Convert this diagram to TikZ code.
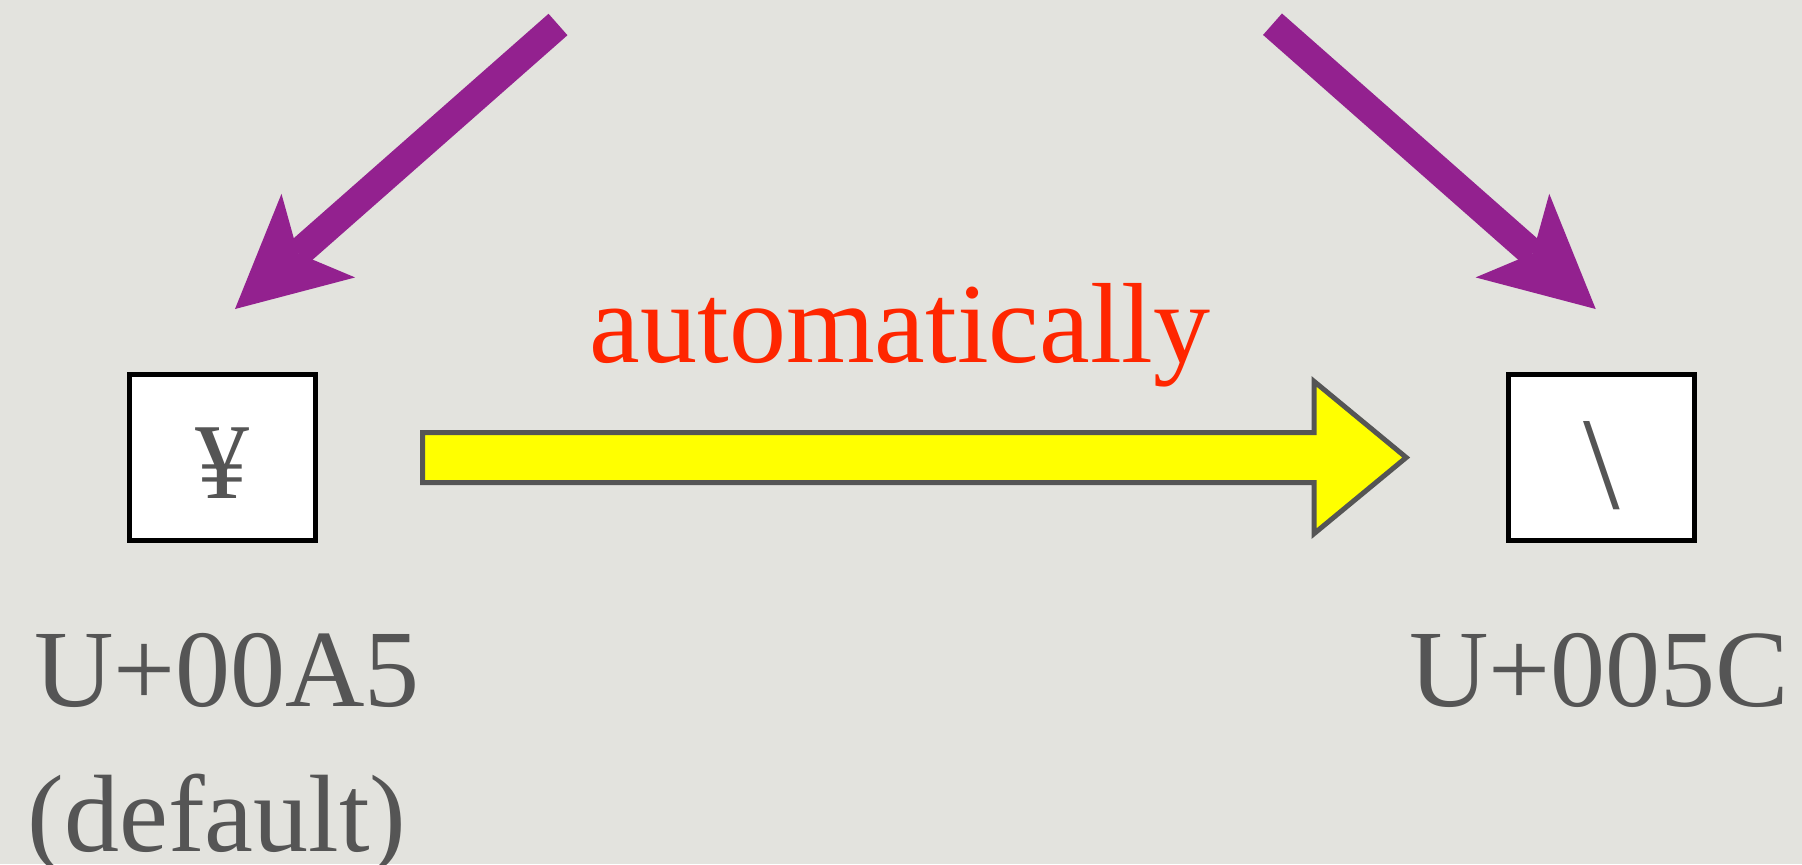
\documentclass[tikz,border=0pt]{standalone}
\usepackage{fontspec}
\setmainfont{Liberation Serif}
\usetikzlibrary{arrows.meta,calc}
\definecolor{paper}{RGB}{227,227,222}
\definecolor{ink}{RGB}{85,85,85}
\definecolor{plum}{RGB}{147,33,143}
\definecolor{alert}{RGB}{255,38,0}
\definecolor{lemon}{RGB}{255,255,0}
\begin{document}
\begin{tikzpicture}[x=0.5pt,y=-0.5pt,
  glyphbox/.style={draw=black, line width=2.5pt, fill=white,
    minimum width=93.3pt, minimum height=83.3pt, inner sep=0pt, outer sep=0pt,
    text=ink, font=\fontsize{54}{60}\selectfont, text height=45pt, text depth=4.5pt},
  codetext/.style={text=ink, font=\fontsize{55}{66}\selectfont, anchor=base, inner sep=0pt},
  pointer/.style={draw=plum, line width=14.3pt, line cap=butt,
    -{Stealth[length=55.5pt,width=55.7pt,inset=13.5pt,line width=0pt]}},
  blockarrow/.style={draw=ink, fill=lemon, line width=2.5pt, line join=miter}]
  % canvas
  \useasboundingbox (0,0) rectangle (1802,864);
  \clip (0,0) rectangle (1802,864);
  \fill[paper] (0,0) rectangle (1802,864);

  % the two character boxes
  \node[glyphbox] (boxL) at (222.5,457.5) {\textyen};
  \node[glyphbox] (boxR) at (1601.5,457.5)
    {\fontsize{66}{70}\selectfont\raisebox{-5pt}{\textbackslash}};

  % code point captions
  \node[codetext] (codeL) at (227,706.7) {U+00A5};
  \node[codetext] (noteL) at (217,851.7) {(default)};
  \node[codetext] (codeR) at (1599,706.7) {U+005C};

  % conversion arrow with its caption
  \node[text=alert, font=\fontsize{57}{64}\selectfont, anchor=base, inner sep=0pt]
    (auto) at (900,362) {automatically};
  \coordinate (ys) at ($(boxL.east)+(106.7,0)$);
  \coordinate (yt) at ($(boxR.west)+(-102,0)$);
  \draw[blockarrow] ($(ys)+(0,-25)$) -- ($(yt)+(-92,-25)$) -- ($(yt)+(-92,-76)$)
    -- (yt) -- ($(yt)+(-92,76)$) -- ($(yt)+(-92,25)$) -- ($(ys)+(0,25)$) -- cycle;

  % incoming pointers from above
  \coordinate (srcL) at (558,24.5);
  \coordinate (tipL) at (235,309);
  \coordinate (srcR) at (1272.5,24.2);
  \coordinate (tipR) at (1595.7,309);
  \draw[pointer] (srcL) -- (tipL);
  \draw[pointer] (srcR) -- (tipR);
\end{tikzpicture}
\end{document}
